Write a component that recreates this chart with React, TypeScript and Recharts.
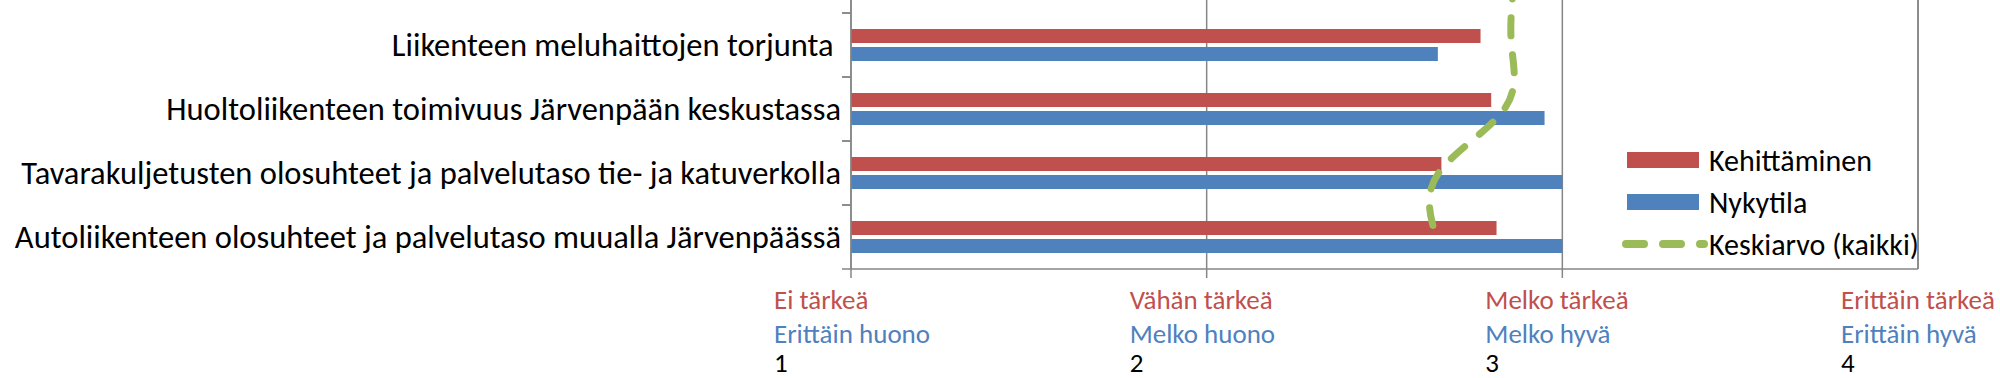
import { ComposedChart, Bar, Line, XAxis, YAxis, CartesianGrid, Legend, ReferenceLine } from 'recharts';

// top row belongs to the part of the figure that is cropped away
const categories = [
    '',
    'Liikenteen meluhaittojen torjunta ',
    'Huoltoliikenteen toimivuus Järvenpään keskustassa',
    'Tavarakuljetusten olosuhteet ja palvelutaso tie- ja katuverkolla',
    'Autoliikenteen olosuhteet ja palvelutaso muualla Järvenpäässä',
];
const kehittaminen = [null, 2.77, 2.80, 2.66, 2.815];
const nykytila = [null, 2.65, 2.95, 3.0, 3.0];
const keskiarvo = [2.865, 2.857, 2.837, 2.652, 2.645];

const seriesNames = ['Kehittäminen', 'Nykytila', 'Keskiarvo (kaikki)'];

const scaleTicks = [1, 2, 3, 4];
const importanceLabels = ['Ei tärkeä', 'Vähän tärkeä', 'Melko tärkeä', 'Erittäin tärkeä'];
const conditionLabels = ['Erittäin huono', 'Melko huono', 'Melko hyvä', 'Erittäin hyvä'];

const RED = '#C0504D';
const BLUE = '#4F81BD';
const GREEN = '#9BBB59';
const GREY = '#868686';
const FONT = 'Carlito, Calibri, Lato, sans-serif';

const data = categories.map((name, i) => ({
    name,
    [seriesNames[0]]: kehittaminen[i],
    [seriesNames[1]]: nykytila[i],
    [seriesNames[2]]: keskiarvo[i],
}));

const CHART_H = 431;
const X_AXIS_H = 111;
const BAND = (CHART_H - X_AXIS_H) / categories.length;

function CategoryTick({ x, y, payload }: any) {
    const ax = x + 10;
    return (
        <g>
            <line x1={ax - 9} x2={ax} y1={y - BAND / 2} y2={y - BAND / 2} stroke={GREY} strokeWidth={1.5} />
            <line x1={ax - 9} x2={ax} y1={y + BAND / 2} y2={y + BAND / 2} stroke={GREY} strokeWidth={1.5} />
            <text x={x} y={y} textAnchor="end" dominantBaseline="central" fontSize={32.5} fill="#000"
                fontFamily={FONT} style={{ whiteSpace: 'pre' }}>
                {payload.value}
            </text>
        </g>
    );
}

function ScaleTick({ x, y, payload }: any) {
    const i = scaleTicks.indexOf(payload.value);
    return (
        <g fontFamily={FONT} fontSize={27}>
            {i < scaleTicks.length - 1 && (
                <line x1={x} x2={x} y1={y} y2={y + 9} stroke={GREY} strokeWidth={1.5} />
            )}
            <text x={x - 77} y={y + 40} fill={RED}>{importanceLabels[i]}</text>
            <text x={x - 77} y={y + 74} fill={BLUE}>{conditionLabels[i]}</text>
            <text x={x - 77} y={y + 103} fill="#000">{payload.value}</text>
        </g>
    );
}

function LegendBox({ payload }: any) {
    const items = seriesNames.map(n => payload.find((p: any) => p.value === n)).filter(Boolean);
    return (
        <div style={{ fontFamily: FONT, fontSize: 30, color: '#000' }}>
            {items.map((p: any) => (
                <div key={p.value} style={{ display: 'flex', alignItems: 'center', height: 42 }}>
                    <svg width={86} height={20} style={{ marginRight: 1 }}>
                        {p.type === 'line' ? (
                            <line x1={4} x2={82} y1={10} y2={10} stroke={GREEN} strokeWidth={8}
                                strokeDasharray="18 19" strokeLinecap="round" />
                        ) : (
                            <rect x={5} y={2} width={72} height={16} fill={p.color} />
                        )}
                    </svg>
                    <span>{p.value}</span>
                </div>
            ))}
        </div>
    );
}

export default function App() {
    return (
        <div style={{ position: 'absolute', left: 0, top: 0, width: 2000, height: 378, overflow: 'hidden', background: '#fff' }}>
            <div style={{ position: 'absolute', left: 0, top: -51 }}>
                <ComposedChart width={2000} height={CHART_H} data={data} layout="vertical"
                    margin={{ top: 0, right: 82, bottom: 0, left: 0 }} barSize={14} barGap={4}>
                    <CartesianGrid horizontal={false} stroke={GREY} strokeWidth={1.5} />
                    <XAxis type="number" domain={[1, 4]} ticks={scaleTicks} height={X_AXIS_H}
                        axisLine={{ stroke: GREY, strokeWidth: 1.5 }} tickLine={false}
                        tickSize={0} tickMargin={0} tick={<ScaleTick />} interval={0} />
                    <YAxis type="category" dataKey="name" width={851} tickSize={0} tickMargin={10}
                        tickLine={false} axisLine={{ stroke: GREY, strokeWidth: 1.5 }} tick={<CategoryTick />} interval={0} />
                    <ReferenceLine x={4} stroke={GREY} strokeWidth={1.5} />
                    <Bar dataKey={seriesNames[0]} fill={RED} isAnimationActive={false} />
                    <Bar dataKey={seriesNames[1]} fill={BLUE} isAnimationActive={false} />
                    <Line dataKey={seriesNames[2]} type="natural" stroke={GREEN} strokeWidth={7}
                        strokeDasharray="18 19" strokeLinecap="round" dot={false} legendType="line"
                        isAnimationActive={false} />
                    <Legend layout="horizontal" align="center" verticalAlign="middle" content={<LegendBox />}
                        wrapperStyle={{ left: 1622, top: 190, width: 340, height: 126 }} />
                </ComposedChart>
            </div>
        </div>
    );
}
